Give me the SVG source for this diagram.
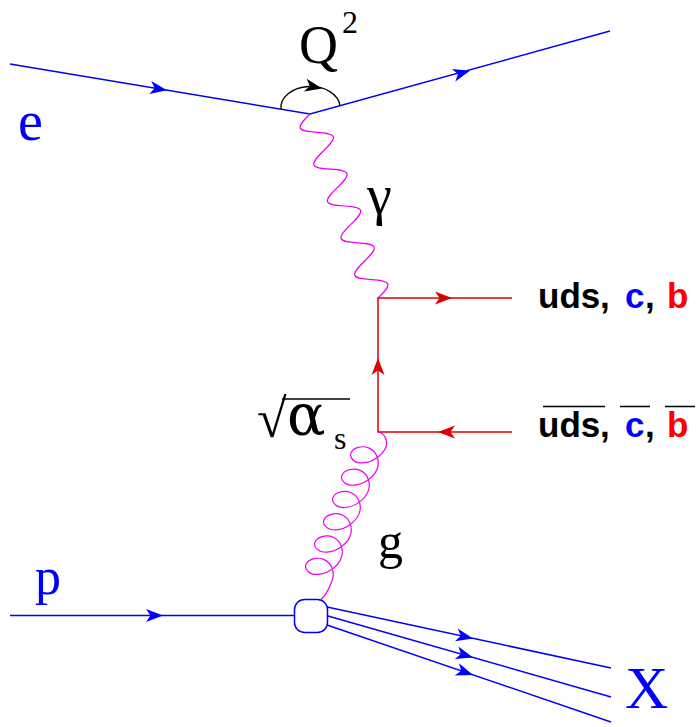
<svg xmlns="http://www.w3.org/2000/svg" xmlns:xlink="http://www.w3.org/1999/xlink" width="698" height="727" viewBox="0 0 698 727">
<style>
.e{stroke:#0000ff;stroke-width:1.5;fill:none}
.q{stroke:#dd0000;stroke-width:1.5;fill:none}
.ph{stroke:#ee00ee;stroke-width:1.2;fill:none}
.k{stroke:#000;stroke-width:1.3;fill:none}
.serif{font-family:"Liberation Serif","Times New Roman",serif}
.greek{font-family:"DejaVu Serif","Liberation Serif",serif}
.lab{font-family:"Liberation Sans",Arial,sans-serif;font-weight:bold;font-size:35px}
</style>
<defs>
<path id="ah" d="M0,0 L-17,-6.5 L-12.5,0 L-17,6.5 Z"/>
</defs>
<rect width="698" height="727" fill="#fff"/>
<g id="connectors">
  <path class="e" d="M10,64 L310,114 L610,31"/>
  <use xlink:href="#ah" fill="#0000ff" transform="translate(167,90.3) rotate(9.5)"/>
  <use xlink:href="#ah" fill="#0000ff" transform="translate(470,70.7) rotate(-15.5)"/>
  <path class="k" d="M281,109 A29.5,21 0 0 1 340,106"/>
  <use xlink:href="#ah" fill="#000" transform="translate(322,88.6) rotate(12)"/>
  <path class="ph" transform="translate(310,114) rotate(69.7)" d="M0,0 c3.2,7.17 6.26,14 9.81,14 s6.61,-6.83 9.81,-14 s6.26,-14 9.81,-14 s6.61,6.83 9.81,14 s6.26,14 9.81,14 s6.61,-6.83 9.81,-14 s6.26,-14 9.81,-14 s6.61,6.83 9.81,14 s6.26,14 9.81,14 s6.61,-6.83 9.81,-14 s6.26,-14 9.81,-14 s6.61,6.83 9.81,14 s6.26,14 9.81,14 s6.61,-6.83 9.81,-14 s6.26,-14 9.81,-14 s6.61,6.83 9.81,14 s6.26,14 9.81,14 s6.61,-6.83 9.81,-14 s6.26,-14 9.81,-14 s6.61,6.83 9.81,14"/>
  <path class="q" d="M512,298 H378 V432 H512"/>
  <use xlink:href="#ah" fill="#dd0000" transform="translate(452,298)"/>
  <use xlink:href="#ah" fill="#dd0000" transform="translate(378,358) rotate(-90)"/>
  <use xlink:href="#ah" fill="#dd0000" transform="translate(438,432) rotate(180)"/>
  <path class="ph" d="M378,432 C385,433 388,441 386,447 c-3.49,8.65 -14.01,15.44 -22.75,15.92 c-8.74,0.48 -14.27,-5.1 -12.28,-10.04 c1.99,-4.94 11.01,-8.01 18.25,-4.77 c7.25,3.24 11.27,12.53 7.78,21.19 c-3.49,8.65 -14.01,15.44 -22.75,15.92 c-8.74,0.48 -14.27,-5.1 -12.28,-10.04 c1.99,-4.94 11.01,-8.01 18.25,-4.77 c7.25,3.24 11.27,12.53 7.78,21.19 c-3.49,8.65 -14.01,15.44 -22.75,15.92 c-8.74,0.48 -14.27,-5.1 -12.28,-10.04 c1.99,-4.94 11.01,-8.01 18.25,-4.77 c7.25,3.24 11.27,12.53 7.78,21.19 c-3.49,8.65 -14.01,15.44 -22.75,15.92 c-8.74,0.48 -14.27,-5.1 -12.28,-10.04 c1.99,-4.94 11.01,-8.01 18.25,-4.77 c7.25,3.24 11.27,12.53 7.78,21.19 c-3.49,8.65 -14.01,15.44 -22.75,15.92 c-8.74,0.48 -14.27,-5.1 -12.28,-10.04 c1.99,-4.94 11.01,-8.01 18.25,-4.77 c7.25,3.24 11.27,12.53 7.78,21.19 c-3.49,8.65 -14.01,15.44 -22.75,15.92 c-8.74,0.48 -14.27,-5.1 -12.28,-10.04 c1.99,-4.94 11.01,-8.01 18.25,-4.77 c7.25,3.24 11.27,12.53 7.78,21.19 C329.7,586.5 327,595 321,599.5"/>
  <path class="e" d="M10,615.5 H294.5"/>
  <use xlink:href="#ah" fill="#0000ff" transform="translate(163,615.5)"/>
  <path class="e" d="M327,607 L611,668 M328,616 L611,697 M327,625 L611,722"/>
  <use xlink:href="#ah" fill="#0000ff" transform="translate(473,638.4) rotate(12.1)"/>
  <use xlink:href="#ah" fill="#0000ff" transform="translate(473,657.5) rotate(16)"/>
  <use xlink:href="#ah" fill="#0000ff" transform="translate(473,674.9) rotate(18.9)"/>
</g>
<g id="blob">
  <rect x="294.5" y="599.5" width="33" height="33" rx="10" fill="#fff" stroke="#0000ff" stroke-width="1.5"/>
</g>
<g id="label-Q2" class="serif">
  <text x="299" y="63" font-size="54">Q</text>
  <text x="342" y="33" font-size="32">2</text>
</g>
<g id="label-e"><text class="serif" x="18" y="140" font-size="56" fill="#0000ff">e</text></g>
<g id="label-gamma"><text class="serif" x="367" y="214" font-size="56">γ</text></g>
<g id="label-alphas">
  <text class="serif" x="257" y="437" font-size="54">√</text>
  <line x1="282" y1="399" x2="350" y2="399" stroke="#000" stroke-width="1.5"/>
  <text class="greek" x="287" y="435" font-size="57">α</text>
  <text class="serif" x="334" y="449" font-size="32">s</text>
</g>
<g id="label-g"><text class="serif" x="378" y="558" font-size="50">g</text></g>
<g id="label-p"><text class="serif" x="35" y="594" font-size="52" fill="#0000ff">p</text></g>
<g id="label-X"><text class="serif" x="625" y="708" font-size="60" fill="#0000ff">X</text></g>
<g id="label-quarks" class="lab">
  <text y="308"><tspan x="538">uds</tspan><tspan x="600">,</tspan><tspan x="625" fill="#0000ff">c</tspan><tspan x="645">,</tspan><tspan x="667" fill="#ff0000">b</tspan></text>
</g>
<g id="label-antiquarks" class="lab">
  <text y="437"><tspan x="538">uds</tspan><tspan x="600">,</tspan><tspan x="625" fill="#0000ff">c</tspan><tspan x="645">,</tspan><tspan x="667" fill="#ff0000">b</tspan></text>
  <path d="M543,406.5 H605 M620,406.5 H650 M665,406.5 H695" stroke="#000" stroke-width="1.5"/>
</g>
</svg>
